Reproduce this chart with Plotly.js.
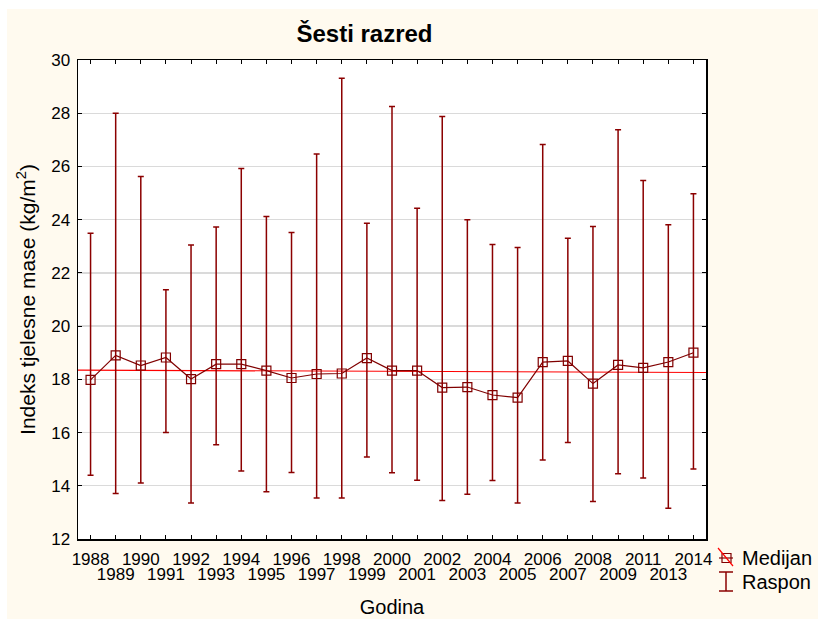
<!DOCTYPE html>
<html>
<head>
<meta charset="utf-8">
<script src="https://cdn.plot.ly/plotly-3.0.1.min.js"></script>
<style>html,body{margin:0;padding:0;background:#fff;}#chart{width:818px;height:619px;}</style>
</head>
<body>
<div id="chart"></div>
<script>
// ---- data ----
const years = ['1988','1989','1990','1991','1992','1993','1994','1995','1996','1997','1998','1999','2000','2001','2002','2003','2004','2005','2006','2007','2008','2009','2011','2013','2014'];
const medians = [17.98,18.90,18.52,18.82,18.01,18.57,18.57,18.33,18.05,18.20,18.22,18.80,18.33,18.33,17.69,17.71,17.41,17.31,18.65,18.69,17.84,18.54,18.43,18.65,19.00];
const maxima = [23.49,28.00,25.62,21.37,23.05,23.72,25.92,24.12,23.52,26.47,29.31,23.87,28.25,24.43,27.88,24.00,23.07,22.95,26.82,23.30,23.74,27.38,25.47,23.81,24.97];
const minima = [14.40,13.71,14.10,16.00,13.35,15.54,14.56,13.78,14.50,13.54,13.54,15.08,14.49,14.21,13.45,13.68,14.20,13.35,14.97,15.63,13.41,14.45,14.29,13.16,14.63];
const titleText = 'Šesti razred';
const xTitle = 'Godina';
const yTitle = 'Indeks tjelesne mase (kg/m<sup>2</sup>)';
const legendLabels = ['Medijan', 'Raspon'];

// ---- derived ----
const idx = years.map((_, i) => i);
const errPlus = maxima.map((v, i) => v - medians[i]);
const errMinus = minima.map((v, i) => medians[i] - v);
// least-squares fit of medians (drawn across the full axis range)
const n = medians.length;
const mx = idx.reduce((a, b) => a + b, 0) / n;
const my = medians.reduce((a, b) => a + b, 0) / n;
let sxy = 0, sxx = 0;
idx.forEach((x, i) => { sxy += (x - mx) * (medians[i] - my); sxx += (x - mx) * (x - mx); });
const slope = sxy / sxx;
const xRange = [-0.5, n - 0.5];
const fitX = xRange.slice();
const fitY = fitX.map(x => my + slope * (x - mx));

const evenIdx = idx.filter(i => i % 2 === 0);
const oddIdx = idx.filter(i => i % 2 === 1);

// ---- geometry helpers (pixel -> paper) ----
const W = 818, H = 619;
const M = {l: 78, r: 112, t: 60, b: 80};
const PW = W - M.l - M.r, PH = H - M.t - M.b;
const px = x => (x - M.l) / PW;
const py = y => (H - M.b - y) / PH;

const FONT = 'Liberation Sans, Arial, sans-serif';
const DARK = '#800000';
const BAR = '#8b0000';

const traces = [
  {
    x: idx, y: medians, xaxis: 'x2', yaxis: 'y',
    mode: 'markers', marker: {size: 1, color: 'rgba(0,0,0,0)'},
    error_y: {type: 'data', symmetric: false, array: errPlus, arrayminus: errMinus,
              color: BAR, thickness: 1.5, width: 3},
    hoverinfo: 'skip', showlegend: false
  },
  {
    x: fitX, y: fitY, mode: 'lines', line: {color: '#ff0000', width: 1.2},
    hoverinfo: 'skip', showlegend: false
  },
  {
    x: idx, y: medians, mode: 'lines+markers',
    line: {color: DARK, width: 1.2},
    marker: {symbol: 'square-open', size: 9, color: DARK, line: {width: 1.2, color: DARK}},
    showlegend: false
  }
];

const tickFont = {family: FONT, size: 17, color: '#000'};

const layout = {
  width: W, height: H,
  margin: M,
  paper_bgcolor: '#fffaef',
  plot_bgcolor: '#ffffff',
  showlegend: false,
  title: {
    text: '<b>' + titleText + '</b>',
    font: {family: FONT, size: 24, color: '#000'},
    xref: 'container', x: 364.5 / W, xanchor: 'center',
    yref: 'container', y: 1 - 34 / H, yanchor: 'middle'
  },
  xaxis: {
    type: 'linear', range: xRange,
    tickmode: 'array', tickvals: evenIdx, ticktext: evenIdx.map(i => years[i]),
    ticks: 'inside', ticklen: 4, tickwidth: 1, tickcolor: '#000',
    showline: true, linecolor: '#000', linewidth: 1.5, mirror: 'ticks',
    showgrid: false, zeroline: false,
    tickfont: tickFont, ticklabelstandoff: 4,
    title: {text: xTitle, font: {family: FONT, size: 20, color: '#000'}, standoff: 32}
  },
  xaxis2: {
    type: 'linear', range: xRange, overlaying: 'x', anchor: 'y', side: 'bottom',
    tickmode: 'array', tickvals: oddIdx, ticktext: oddIdx.map(i => years[i]),
    ticks: 'inside', ticklen: 4, tickwidth: 1, tickcolor: '#000',
    showline: false, mirror: 'ticks',
    showgrid: false, zeroline: false,
    tickfont: tickFont, ticklabelstandoff: 23
  },
  yaxis: {
    range: [12, 30], tickmode: 'linear', tick0: 12, dtick: 2,
    ticks: 'inside', ticklen: 4, tickwidth: 1, tickcolor: '#000',
    showline: true, linecolor: '#000', linewidth: 1.5, mirror: 'ticks',
    showgrid: true, gridcolor: '#dadada', gridwidth: 1.3, zeroline: false,
    tickfont: tickFont, ticklabelstandoff: 3,
    title: {text: yTitle, font: {family: FONT, size: 21, color: '#000'}, standoff: 10}
  },
  shapes: [
    // white strips outside the cream panel
    {type: 'rect', xref: 'paper', yref: 'paper', x0: px(0), x1: px(W), y0: py(9), y1: py(0),
     fillcolor: '#ffffff', line: {width: 0}, layer: 'below'},
    {type: 'rect', xref: 'paper', yref: 'paper', x0: px(0), x1: px(7), y0: py(H), y1: py(0),
     fillcolor: '#ffffff', line: {width: 0}, layer: 'below'},
    // legend: Medijan icon
    {type: 'line', xref: 'paper', yref: 'paper', x0: px(719), x1: px(733), y0: py(558), y1: py(558),
     line: {color: DARK, width: 1.2}},
    {type: 'rect', xref: 'paper', yref: 'paper', x0: px(722), x1: px(731), y0: py(562.5), y1: py(553.5),
     line: {color: DARK, width: 1.2}},
    {type: 'line', xref: 'paper', yref: 'paper', x0: px(718), x1: px(733), y0: py(548), y1: py(566),
     line: {color: '#ff0000', width: 1.2}},
    // legend: Raspon icon
    {type: 'line', xref: 'paper', yref: 'paper', x0: px(726), x1: px(726), y0: py(572), y1: py(591),
     line: {color: BAR, width: 1.5}},
    {type: 'line', xref: 'paper', yref: 'paper', x0: px(719), x1: px(733), y0: py(572), y1: py(572),
     line: {color: BAR, width: 1.5}},
    {type: 'line', xref: 'paper', yref: 'paper', x0: px(719), x1: px(733), y0: py(591), y1: py(591),
     line: {color: BAR, width: 1.5}}
  ],
  annotations: [
    {text: legendLabels[0], xref: 'paper', yref: 'paper', x: px(740), y: py(558),
     xanchor: 'left', yanchor: 'middle', showarrow: false,
     font: {family: FONT, size: 20, color: '#000'}},
    {text: legendLabels[1], xref: 'paper', yref: 'paper', x: px(740), y: py(582),
     xanchor: 'left', yanchor: 'middle', showarrow: false,
     font: {family: FONT, size: 20, color: '#000'}}
  ]
};

Plotly.newPlot('chart', traces, layout, {staticPlot: true, displayModeBar: false});
</script>
</body>
</html>
